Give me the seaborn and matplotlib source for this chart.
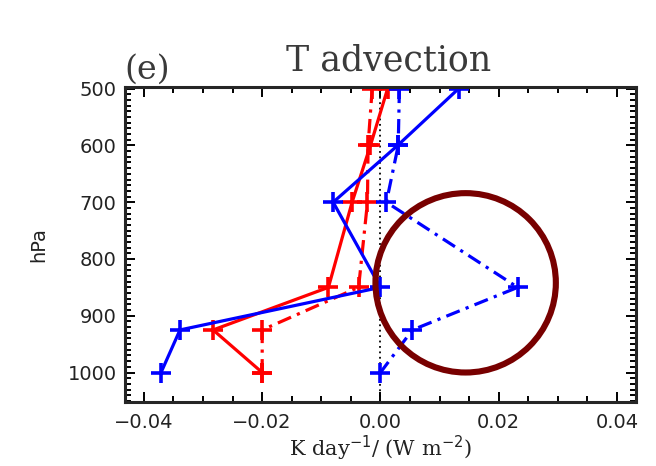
import numpy as np
import matplotlib
matplotlib.use("Agg")
import matplotlib.pyplot as plt
import seaborn as sns
from matplotlib.patches import Ellipse
from matplotlib.ticker import MultipleLocator

# pressure levels (hPa)
levels = [500, 600, 700, 850, 925, 1000]

# T advection profiles, K day-1 / (W m-2)
red_solid = [0.0012, -0.0017, -0.0048, -0.0088, -0.0283, -0.0200]
red_dashdot = [-0.0014, -0.0021, -0.0022, -0.0037, -0.0200, -0.0200]
blue_solid = [0.0132, 0.0029, -0.0080, 0.0000, -0.0339, -0.0371]
blue_dashdot = [0.0032, 0.0030, 0.0010, 0.0232, 0.0054, 0.0000]

x_ticks = [-0.04, -0.02, 0.00, 0.02, 0.04]
x_labels = ["\u22120.04", "\u22120.02", "0.00", "0.02", "0.04"]
y_ticks = [500, 600, 700, 800, 900, 1000]

sns.set_style("ticks")
plt.rcParams['font.family'] = ['DejaVu Sans']

fig = plt.figure(figsize=(6.56, 4.66), dpi=100)
ax = fig.add_axes([0.1905, 0.1373, 0.779, 0.676])

dashdot = (0, (4.5, 2, 1, 2))
series = [
    (red_solid, "#ff0000", "-"),
    (red_dashdot, "#ff0000", dashdot),
    (blue_solid, "#0000ff", "-"),
    (blue_dashdot, "#0000ff", dashdot),
]
for vals, col, ls in series:
    sns.lineplot(x=vals, y=levels, sort=False, estimator=None, ax=ax,
                 color=col, linestyle=ls, linewidth=2.3, marker="+",
                 markersize=15, markeredgewidth=2.6, markeredgecolor=col)

# zero line
ax.axvline(0, color="black", linestyle=(0, (1, 2)), linewidth=1.3, zorder=1)

ax.set_xlim(-0.0432, 0.0432)
ax.set_ylim(1052, 497)
ax.set_xticks(x_ticks)
ax.set_xticklabels(x_labels)
ax.set_yticks(y_ticks)
ax.xaxis.set_minor_locator(MultipleLocator(0.005))
ax.yaxis.set_minor_locator(MultipleLocator(10))
ax.tick_params(which="both", direction="in", top=True, right=True,
               labelsize=14, width=1.4, colors="black", labelcolor="#222222")
ax.tick_params(axis="x", which="major", pad=8)
ax.tick_params(axis="y", which="major", pad=6)
ax.tick_params(which="major", length=7)
ax.tick_params(which="minor", length=4)
for s in ax.spines.values():
    s.set_linewidth(2.2)

ax.set_xlabel("K day$^{-1}$/ (W m$^{-2}$)", fontsize=15, family="DejaVu Serif",
              color="#222222", labelpad=1)
ax.set_ylabel("hPa", fontsize=14, color="#222222", labelpad=14)

# highlight circle
ax.add_patch(Ellipse((0.0144, 842), 0.0305, 316, fill=False,
                     edgecolor="#780000", linewidth=4.4, zorder=5,
                     clip_on=False))

fig.text(0.19, 0.832, "(e)", fontsize=24, family="DejaVu Serif",
         color="#3a3a3a", va="baseline", ha="left")
fig.text(0.592, 0.848, "T advection", fontsize=25, family="DejaVu Serif",
         color="#3a3a3a", va="baseline", ha="center")

fig.savefig("out.png", dpi=100)
